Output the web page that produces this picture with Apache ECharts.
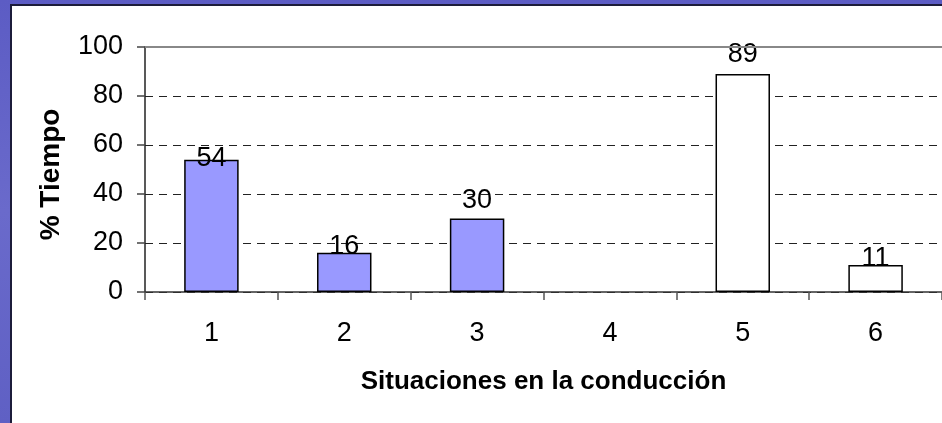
<!DOCTYPE html>
<html>
<head>
<meta charset="utf-8">
<script src="https://cdn.jsdelivr.net/npm/echarts@6/dist/echarts.min.js"></script>
<style>
  html, body { margin: 0; padding: 0; width: 942px; height: 423px; overflow: hidden; }
  body {
    background: linear-gradient(180deg, #5c5cc4 0%, #6a6acb 50%, #5f60c4 100%);
    position: relative;
  }
  #panel {
    position: absolute; left: 10px; top: 4px; right: 0; bottom: 0;
    background: #ffffff;
    border-left: 2px solid #1c1c3a;
    border-top: 2px solid #1c1c3a;
  }
  #chart { position: absolute; left: 0; top: 0; width: 942px; height: 423px; }
</style>
</head>
<body>
<div id="panel"></div>
<div id="chart"></div>
<script>
const categories = ['1', '2', '3', '4', '5', '6'];
const values = [54, 16, 30, null, 89, 11];
const barColors = ['#9999FF', '#9999FF', '#9999FF', '#9999FF', '#FFFFFF', '#FFFFFF'];
const yTicks = [0, 20, 40, 60, 80, 100];
const yTitle = '% Tiempo';
const xTitle = 'Situaciones en la conducción';

// per-bar label vertical shifts (pixels), as placed in the original
const labelShift = [12, 7, -4, 0, -6, 7];

const font = '"Liberation Sans", Arial, sans-serif';

const chart = echarts.init(document.getElementById('chart'), null, { renderer: 'canvas' });

const seriesData = values.map((v, i) => ({
  value: v,
  itemStyle: { color: barColors[i] },
  label: { offset: [0, labelShift[i]] }
}));

chart.setOption({
  backgroundColor: 'transparent',
  animation: false,
  grid: { left: 145, right: -3, top: 47, bottom: 131, containLabel: false },
  xAxis: {
    type: 'category',
    data: categories,
    name: xTitle,
    nameLocation: 'middle',
    nameGap: 77,
    nameTextStyle: { fontFamily: font, fontSize: 26, fontWeight: 'bold', color: '#000' },
    axisLine: { show: true, lineStyle: { color: '#333', width: 1.5 } },
    axisTick: { show: true, alignWithLabel: false, length: 8, lineStyle: { color: '#555', width: 1.5 } },
    axisLabel: { fontFamily: font, fontSize: 27, color: '#000', margin: 28 },
    splitLine: { show: false }
  },
  yAxis: {
    type: 'value',
    min: yTicks[0],
    max: yTicks[yTicks.length - 1],
    interval: 20,
    name: yTitle,
    nameLocation: 'middle',
    nameGap: 80,
    nameTextStyle: { fontFamily: font, fontSize: 28, fontWeight: 'bold', color: '#000', padding: [0, 10, 0, 0] },
    axisLine: { show: true, lineStyle: { color: '#222', width: 1.5 } },
    axisTick: { show: true, length: 8, lineStyle: { color: '#444', width: 1.5 } },
    axisLabel: { fontFamily: font, fontSize: 27, color: '#000', margin: 22 },
    splitLine: { show: true, lineStyle: { color: '#222', width: 1, type: [8, 6] } }
  },
  series: [{
    type: 'bar',
    data: seriesData,
    barWidth: '41%',
    itemStyle: { borderColor: '#000', borderWidth: 1.5 },
    label: {
      show: true,
      position: 'top',
      distance: 0,
      fontFamily: font,
      fontSize: 27,
      color: '#000'
    },
    markLine: {
      silent: true,
      symbol: 'none',
      label: { show: false },
      lineStyle: { color: '#888', type: 'solid', width: 2 },
      data: [{ yAxis: yTicks[yTicks.length - 1] }]
    }
  }]
});
</script>
</body>
</html>
